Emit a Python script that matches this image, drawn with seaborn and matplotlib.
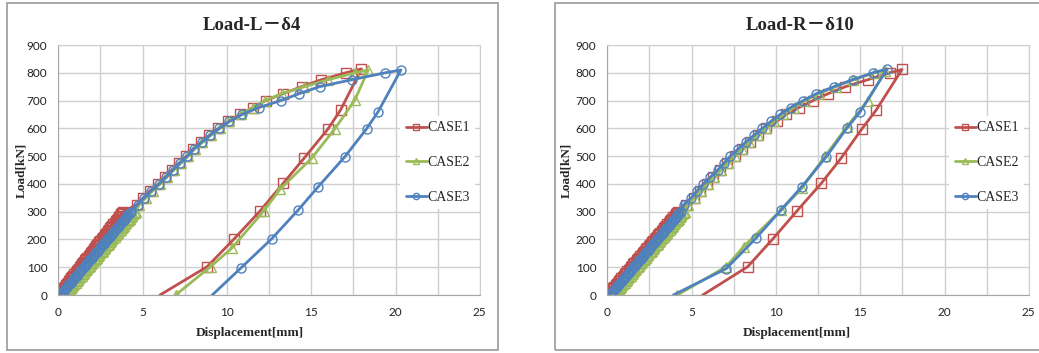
import matplotlib
matplotlib.use("Agg")
import matplotlib.pyplot as plt
from matplotlib.patches import Rectangle
from matplotlib.ticker import MultipleLocator
import pandas as pd
import seaborn as sns

CASES = ["CASE1", "CASE2", "CASE3"]
COLORS = {"CASE1": "#C0504D", "CASE2": "#9BBB59", "CASE3": "#4F81BD"}
MARKERS = {"CASE1": "s", "CASE2": "^", "CASE3": "o"}

TITLES = ["Load-L－δ4", "Load-R－δ10"]

# load steps [kN] shared by every loading branch
LOAD_PRE = [0, 5, 10, 15, 20, 25, 30, 35, 40, 45, 50, 55, 60, 65, 70, 75, 80,
            85, 90, 95, 100, 105, 110, 115, 120, 125, 130, 135, 140, 145, 150,
            155, 160, 165, 170, 175, 180, 185, 190, 195, 200, 205, 210, 215,
            220, 225, 230, 235, 240, 245, 250, 255, 260, 265, 270, 275, 280,
            285, 290, 295, 300]
LOAD_UP = [325, 350, 375, 400, 425, 450, 475, 500, 525, 550, 575, 600, 625,
           650, 675, 700, 725, 750, 775, 800]

# ---- Load-L-δ4 : displacement [mm] ----
L_PRE = {
    "CASE1": [0.00, 0.06, 0.13, 0.19, 0.26, 0.32, 0.39, 0.45, 0.51, 0.58, 0.64,
              0.71, 0.77, 0.83, 0.90, 0.96, 1.03, 1.09, 1.16, 1.22, 1.28, 1.35,
              1.41, 1.48, 1.54, 1.60, 1.67, 1.73, 1.80, 1.86, 1.93, 1.99, 2.05,
              2.12, 2.18, 2.25, 2.31, 2.38, 2.44, 2.50, 2.57, 2.63, 2.70, 2.76,
              2.82, 2.89, 2.95, 3.02, 3.08, 3.15, 3.21, 3.27, 3.34, 3.40, 3.47,
              3.53, 3.59, 3.66, 3.72, 3.79, 3.85],
    "CASE2": [0.40, 0.47, 0.54, 0.61, 0.68, 0.75, 0.82, 0.89, 0.96, 1.03, 1.10,
              1.17, 1.24, 1.31, 1.38, 1.45, 1.52, 1.59, 1.66, 1.73, 1.80, 1.87,
              1.94, 2.01, 2.08, 2.15, 2.22, 2.29, 2.36, 2.43, 2.50, 2.57, 2.64,
              2.71, 2.78, 2.85, 2.92, 2.99, 3.06, 3.13, 3.20, 3.27, 3.34, 3.41,
              3.48, 3.55, 3.62, 3.69, 3.76, 3.83, 3.90, 3.97, 4.04, 4.11, 4.18,
              4.25, 4.32, 4.39, 4.46, 4.53, 4.60],
    "CASE3": [0.10, 0.17, 0.24, 0.31, 0.38, 0.45, 0.52, 0.59, 0.66, 0.73, 0.80,
              0.87, 0.94, 1.01, 1.08, 1.15, 1.22, 1.29, 1.36, 1.43, 1.50, 1.57,
              1.64, 1.71, 1.78, 1.85, 1.92, 1.99, 2.06, 2.13, 2.20, 2.27, 2.34,
              2.41, 2.48, 2.55, 2.62, 2.69, 2.76, 2.83, 2.90, 2.97, 3.04, 3.11,
              3.18, 3.25, 3.32, 3.39, 3.46, 3.53, 3.60, 3.67, 3.74, 3.81, 3.88,
              3.95, 4.02, 4.09, 4.16, 4.23, 4.30],
}
L_UP = {
    "CASE1": [4.64, 5.04, 5.43, 5.93, 6.32, 6.72, 7.15, 7.60, 7.96, 8.46, 8.95,
              9.49, 10.08, 10.77, 11.56, 12.30, 13.34, 14.43, 15.60, 17.05],
    "CASE2": [4.80, 5.20, 5.60, 6.05, 6.45, 6.85, 7.28, 7.70, 8.08, 8.55, 9.05,
              9.58, 10.15, 10.82, 11.55, 12.25, 13.25, 14.60, 16.00, 17.60],
    "CASE3": [4.70, 5.10, 5.50, 5.98, 6.40, 6.80, 7.22, 7.65, 8.02, 8.50, 9.00,
              9.55, 10.15, 10.90, 11.90, 13.20, 14.30, 15.50, 17.40, 19.40],
}
L_PEAK_D = {"CASE1": 17.98, "CASE2": 18.38, "CASE3": 20.32}
L_PEAK_L = {"CASE1": 814, "CASE2": 810, "CASE3": 810}
L_DOWN_D = {
    "CASE1": [16.74, 16.00, 14.57, 13.34, 11.96, 10.43, 8.83, 6.03],
    "CASE2": [17.59, 16.40, 15.02, 13.14, 12.21, 10.28, 9.03, 6.96],
    "CASE3": [18.97, 18.28, 17.00, 15.42, 14.23, 12.65, 10.81, 9.13],
}
L_DOWN_L = {
    "CASE1": [666, 598, 492, 402, 302, 202, 102, 0],
    "CASE2": [702, 598, 492, 380, 304, 168, 102, 0],
    "CASE3": [660, 598, 498, 390, 306, 202, 96, 0],
}

# ---- Load-R-δ10 : displacement [mm] ----
R_PRE = {
    "CASE1": [0.00, 0.07, 0.14, 0.21, 0.28, 0.35, 0.42, 0.49, 0.56, 0.63, 0.70,
              0.77, 0.84, 0.91, 0.98, 1.05, 1.12, 1.19, 1.26, 1.33, 1.40, 1.47,
              1.54, 1.61, 1.68, 1.75, 1.82, 1.89, 1.96, 2.03, 2.10, 2.17, 2.24,
              2.31, 2.38, 2.45, 2.52, 2.59, 2.66, 2.73, 2.80, 2.87, 2.94, 3.01,
              3.08, 3.15, 3.22, 3.29, 3.36, 3.43, 3.50, 3.57, 3.64, 3.71, 3.78,
              3.85, 3.92, 3.99, 4.06, 4.13, 4.20],
    "CASE2": [0.40, 0.47, 0.54, 0.61, 0.68, 0.75, 0.82, 0.89, 0.96, 1.03, 1.10,
              1.17, 1.24, 1.31, 1.38, 1.45, 1.52, 1.59, 1.66, 1.73, 1.80, 1.87,
              1.94, 2.01, 2.08, 2.15, 2.22, 2.29, 2.36, 2.43, 2.50, 2.57, 2.64,
              2.71, 2.78, 2.85, 2.92, 2.99, 3.06, 3.13, 3.20, 3.27, 3.34, 3.41,
              3.48, 3.55, 3.62, 3.69, 3.76, 3.83, 3.90, 3.97, 4.04, 4.11, 4.18,
              4.25, 4.32, 4.39, 4.46, 4.53, 4.60],
    "CASE3": [0.15, 0.22, 0.29, 0.36, 0.43, 0.50, 0.57, 0.64, 0.71, 0.78, 0.85,
              0.92, 0.99, 1.06, 1.13, 1.20, 1.27, 1.34, 1.41, 1.48, 1.55, 1.62,
              1.69, 1.76, 1.83, 1.90, 1.97, 2.04, 2.11, 2.18, 2.25, 2.32, 2.39,
              2.46, 2.53, 2.60, 2.67, 2.74, 2.81, 2.88, 2.95, 3.02, 3.09, 3.16,
              3.23, 3.30, 3.37, 3.44, 3.51, 3.58, 3.65, 3.72, 3.79, 3.86, 3.93,
              4.00, 4.07, 4.14, 4.21, 4.28, 4.35],
}
R_UP = {
    "CASE1": [4.68, 5.12, 5.50, 5.90, 6.26, 6.70, 7.12, 7.58, 8.00, 8.47, 8.95,
              9.40, 10.05, 10.60, 11.38, 12.20, 13.10, 14.12, 15.45, 16.75],
    "CASE2": [4.80, 5.20, 5.55, 5.95, 6.35, 6.75, 7.15, 7.55, 7.98, 8.42, 8.92,
              9.40, 9.90, 10.45, 11.05, 11.75, 12.55, 13.55, 14.60, 15.85],
    "CASE3": [4.53, 4.98, 5.32, 5.70, 6.12, 6.55, 6.92, 7.30, 7.75, 8.20, 8.70,
              9.20, 9.70, 10.25, 10.87, 11.62, 12.40, 13.45, 14.55, 15.75],
}
R_PEAK_D = {"CASE1": 17.48, "CASE2": 16.50, "CASE3": 16.60}
R_PEAK_L = {"CASE1": 812, "CASE2": 806, "CASE3": 814}
R_DOWN_D = {
    "CASE1": [15.95, 15.10, 13.86, 12.69, 11.24, 9.82, 8.33, 5.66],
    "CASE2": [15.44, 14.20, 12.92, 11.54, 10.30, 8.08, 7.05, 4.16],
    "CASE3": [15.00, 14.20, 12.99, 11.54, 10.30, 8.81, 7.05, 3.92],
}
R_DOWN_L = {
    "CASE1": [666, 598, 492, 402, 302, 202, 102, 0],
    "CASE2": [700, 605, 500, 385, 305, 174, 102, 0],
    "CASE3": [660, 600, 498, 390, 306, 204, 95, 0],
}


def build_frame(pre, up, peak_d, peak_l, down_d, down_l):
    rows = []
    for case in CASES:
        assert len(pre[case]) == len(LOAD_PRE), case
        assert len(up[case]) == len(LOAD_UP), case
        assert len(down_d[case]) == len(down_l[case]), case
        disp = pre[case] + up[case] + [peak_d[case]] + down_d[case]
        load = LOAD_PRE + LOAD_UP + [peak_l[case]] + down_l[case]
        for i, (d, l) in enumerate(zip(disp, load)):
            rows.append({"case": case, "step": i, "disp": d, "load": l})
    return pd.DataFrame(rows)


sns.set_style("white")
SERIF = ["Liberation Serif", "Noto Sans CJK JP", "DejaVu Serif"]
plt.rcParams["font.family"] = ["Lato", "DejaVu Sans"]

fig = plt.figure(figsize=(10.39, 3.53), dpi=100)
W, H = 1039, 353

panels = [
    build_frame(L_PRE, L_UP, L_PEAK_D, L_PEAK_L, L_DOWN_D, L_DOWN_L),
    build_frame(R_PRE, R_UP, R_PEAK_D, R_PEAK_L, R_DOWN_D, R_DOWN_L),
]
ax_left_px = [58.3, 607.3]
ylabel_x = [-0.074, -0.084]
title_x = [0.46, 0.457]
xlabel_x = [0.455, 0.45]
frame_px = [(7, 3, 491, 347), (555, 3, 500, 347)]

for k, df in enumerate(panels):
    fx, fy, fw, fh = frame_px[k]
    fig.patches.append(Rectangle((fx / W, 1 - (fy + fh) / H), fw / W, fh / H,
                                 transform=fig.transFigure, fill=False,
                                 edgecolor="#9A9A9A", linewidth=1.2))
    ax = fig.add_axes([ax_left_px[k] / W, 1 - 295 / H, 421.5 / W, 250 / H])

    for case in CASES:
        sub = df[df["case"] == case]
        mark = None if case == "CASE2" else slice(0, len(sub) - 1)
        sns.lineplot(data=sub, x="disp", y="load", sort=False, estimator=None,
                     ax=ax, color=COLORS[case], linewidth=2.0,
                     marker=MARKERS[case], markersize=6.5, markevery=mark,
                     markerfacecolor="none", markeredgecolor=COLORS[case],
                     markeredgewidth=1.0, label=case)

    ax.set_xlim(0, 25)
    ax.set_ylim(0, 900)
    ax.xaxis.set_major_locator(MultipleLocator(5))
    ax.xaxis.set_minor_locator(MultipleLocator(2.5))
    ax.yaxis.set_major_locator(MultipleLocator(100))
    ax.grid(True, which="both", axis="x", color="#CFCFCF", linewidth=1.0)
    ax.grid(True, which="major", axis="y", color="#CFCFCF", linewidth=1.0)
    ax.set_axisbelow(True)
    for side in ["top", "right"]:
        ax.spines[side].set_color("#CFCFCF")
    for side in ["left", "bottom"]:
        ax.spines[side].set_color("#A6A6A6")
    ax.tick_params(axis="both", which="both", length=0, labelsize=8.5,
                   colors="#222222")
    ax.tick_params(axis="y", pad=8)
    ax.tick_params(axis="x", pad=9)

    ax.set_title(TITLES[k], family=SERIF, fontweight="bold", fontsize=13.5,
                 y=1.08, pad=0, va="center")
    ax.title.set_x(title_x[k])
    ax.set_xlabel("Displacement[mm]", family=SERIF, fontweight="bold",
                  fontsize=9.5)
    ax.set_ylabel("Load[kN]", family=SERIF, fontweight="bold", fontsize=9.5)
    ax.xaxis.set_label_coords(xlabel_x[k], -0.128)
    ax.yaxis.set_label_coords(ylabel_x[k], 0.5)

    leg = ax.legend(loc="center left", bbox_to_anchor=(0.795, 0.53),
                    frameon=True, facecolor="white", edgecolor="none",
                    framealpha=1.0, fancybox=False, handlelength=1.5,
                    handletextpad=0.05, labelspacing=1.55, borderpad=0.4,
                    prop={"family": SERIF, "size": 10})
    for h in leg.legend_handles:
        h.set_markersize(4.5)

fig.savefig("out.png", dpi=100)
